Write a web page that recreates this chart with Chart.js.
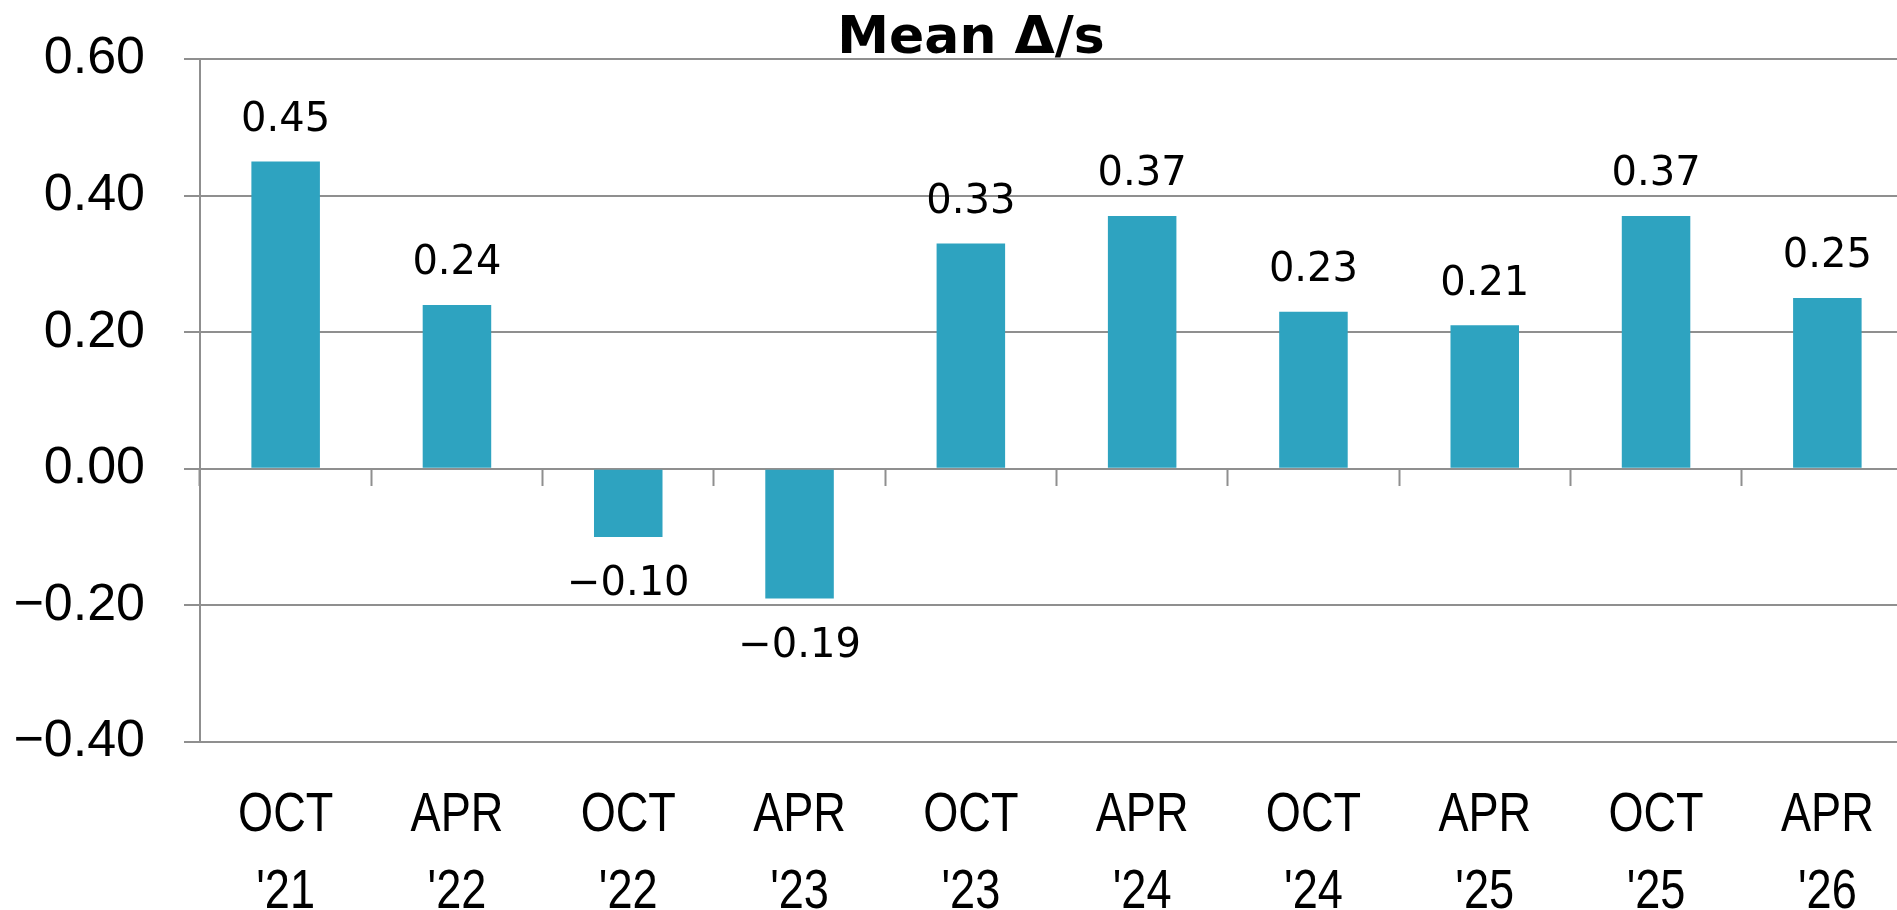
<!DOCTYPE html>
<html lang="en">

<head>
    <title>Mean Δ/s</title>
    <meta charset="utf-8">
    <script src="https://cdn.jsdelivr.net/npm/chart.js@4"></script>
    <style>
        html, body { margin: 0; padding: 0; background: #fff; overflow: hidden; }
        #wrap { width: 1942px; height: 910px; }
    </style>
</head>

<body>
    <div id="wrap">
        <canvas id="deltaChart" width="1942" height="910"></canvas>
    </div>

    <script>
        // chart data
        const categories = [['OCT', "'21"], ['APR', "'22"], ['OCT', "'22"], ['APR', "'23"], ['OCT', "'23"],
                            ['APR', "'24"], ['OCT', "'24"], ['APR', "'25"], ['OCT', "'25"], ['APR', "'26"]];
        const meanDelta = [0.45, 0.24, -0.10, -0.19, 0.33, 0.37, 0.23, 0.21, 0.37, 0.25];
        const yTicks = [-0.40, -0.20, 0.00, 0.20, 0.40, 0.60];

        const fmt = (v) => (v < 0 ? '\u2212' : '') + Math.abs(v).toFixed(2);
        const gridGray = '#8f8f8f';

        // value labels above / below the bars
        const barLabels = {
            id: 'barLabels',
            afterDatasetsDraw(chart) {
                const ctx = chart.ctx;
                const meta = chart.getDatasetMeta(0);
                ctx.save();
                ctx.font = '40px "DejaVu Sans"';
                ctx.fillStyle = '#000';
                ctx.textAlign = 'center';
                ctx.textBaseline = 'middle';
                meta.data.forEach((bar, i) => {
                    const v = meanDelta[i];
                    ctx.fillText(fmt(v), bar.x, v >= 0 ? bar.y - 41 : bar.y + 48);
                });
                ctx.restore();
            }
        };

        // category labels in a condensed face (no narrow font installed, so squeeze the text)
        const narrowTicks = {
            id: 'narrowTicks',
            afterDraw(chart) {
                const ctx = chart.ctx;
                const scale = chart.scales.x;
                ctx.save();
                ctx.font = '55px "Liberation Sans"';
                ctx.fillStyle = '#000';
                ctx.textAlign = 'center';
                ctx.textBaseline = 'alphabetic';
                scale.ticks.forEach((t, i) => {
                    const x = scale.getPixelForTick(i);
                    categories[i].forEach((line, k) => {
                        ctx.save();
                        ctx.translate(x, scale.top + 89 + k * 77);
                        ctx.scale(0.82, 1);
                        ctx.fillText(line, 0, 0);
                        ctx.restore();
                    });
                });
                ctx.restore();
            }
        };

        const ctx = document.getElementById('deltaChart').getContext('2d');
        new Chart(ctx, {
            type: 'bar',
            data: {
                labels: categories,
                datasets: [{
                    label: 'Mean Δ/s',
                    data: meanDelta,
                    backgroundColor: '#2ea3c0',
                    borderWidth: 0,
                    barPercentage: 0.4,
                    categoryPercentage: 1.0
                }]
            },
            options: {
                responsive: false,
                animation: false,
                layout: { padding: 0 },
                plugins: {
                    legend: { display: false },
                    tooltip: { enabled: false },
                    title: {
                        display: true,
                        text: 'Mean Δ/s',
                        color: '#000',
                        font: { family: '"DejaVu Sans"', size: 52, weight: 'bold', lineHeight: 1.0 },
                        padding: { top: 13, bottom: -6 }
                    }
                },
                scales: {
                    x: {
                        type: 'category',
                        offset: true,
                        grid: { display: false },
                        border: { display: false },
                        ticks: { display: false },
                        afterFit: (scale) => { scale.height = 168; }
                    },
                    x2: {
                        type: 'category',
                        labels: categories,
                        position: { y: 0 },
                        offset: true,
                        grid: {
                            offset: true,
                            drawOnChartArea: false,
                            drawTicks: true,
                            tickLength: 17,
                            tickWidth: 2,
                            tickColor: gridGray
                        },
                        border: { display: false },
                        ticks: { display: false }
                    },
                    y: {
                        min: -0.4,
                        max: 0.6,
                        afterBuildTicks: (scale) => { scale.ticks = yTicks.map(v => ({ value: v })); },
                        grid: {
                            color: gridGray,
                            lineWidth: 2,
                            drawTicks: true,
                            tickLength: 16,
                            tickColor: gridGray
                        },
                        border: { display: true, color: gridGray, width: 2 },
                        ticks: {
                            color: '#000',
                            padding: 39,
                            font: { family: '"Liberation Sans"', size: 52 },
                            callback: (v) => fmt(v)
                        },
                        afterFit: (scale) => {
                            scale.width = 200;
                            // the tick padding should not push the plot down from the title
                            scale.paddingTop = 0;
                            scale.paddingBottom = 0;
                        }
                    },
                    // empty axis that only keeps the right margin, so the title stays centred on the canvas
                    yPad: {
                        position: 'right',
                        grid: { display: false },
                        border: { display: false },
                        ticks: { display: false },
                        afterFit: (scale) => { scale.width = 29; }
                    }
                }
            },
            plugins: [barLabels, narrowTicks]
        });
    </script>
</body>

</html>
